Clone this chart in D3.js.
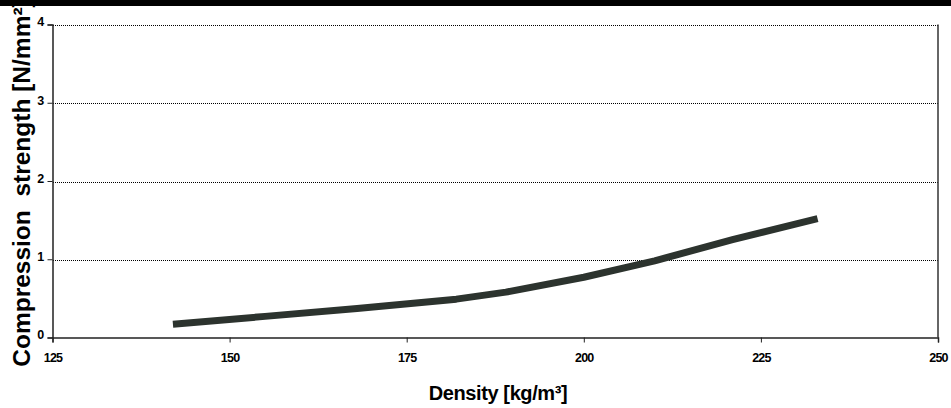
<!DOCTYPE html>
<html>
<head>
<meta charset="utf-8">
<script src="https://cdn.jsdelivr.net/npm/d3@7"></script>
<style>
body { margin: 0; background: #fff; }
text { font-family: "Liberation Sans", Arial, sans-serif; font-weight: bold; }
</style>
</head>
<body>
<script>
// density [kg/m3] vs compression strength [N/mm2]
const density = [142, 155, 168, 182, 189, 200, 210, 221, 233];
const strength = [0.17, 0.27, 0.37, 0.49, 0.58, 0.77, 0.98, 1.25, 1.52];
const xTicks = [125, 150, 175, 200, 225, 250];
const yTicks = [0, 1, 2, 3, 4];

const W = 951, H = 408;
const margin = {top: 24.5, right: 13, bottom: 70.5, left: 52.5};
const width = W - margin.left - margin.right,
    height = H - margin.top - margin.bottom;

const svg = d3.select("body").append("svg")
	.attr("width", W)
	.attr("height", H);

// black strip along the top
svg.append("rect")
	.attr("x", 0).attr("y", 0)
	.attr("width", W).attr("height", 6)
	.attr("fill", "#000");

const g = svg.append("g")
	.attr("transform", "translate(" + margin.left + "," + margin.top + ")");

const x = d3.scaleLinear().domain([125, 250]).range([0, width]);
const y = d3.scaleLinear().domain([0, 4]).range([height, 0]);

// dotted gridlines
g.selectAll(".grid")
	.data(yTicks.filter(d => d > 0))
	.join("line")
		.attr("x1", 0).attr("x2", width)
		.attr("y1", d => Math.round(y(d)) + 0.5).attr("y2", d => Math.round(y(d)) + 0.5)
		.attr("stroke", "#000")
		.attr("stroke-width", 1)
		.attr("shape-rendering", "crispEdges")
		.attr("stroke-dasharray", "1,1");

// right frame edge
g.append("line")
	.attr("x1", width).attr("x2", width)
	.attr("y1", 0).attr("y2", height)
	.attr("stroke", "#333")
	.attr("stroke-width", 1.5);

const xAxis = g.append("g")
	.attr("transform", "translate(0," + height + ")")
	.call(d3.axisBottom(x).tickValues(xTicks).tickSize(5).tickPadding(11));
const yAxis = g.append("g")
	.call(d3.axisLeft(y).tickValues(yTicks).tickFormat(d3.format("d")).tickSize(5).tickPadding(4));

[xAxis, yAxis].forEach(a => {
	a.select(".domain").attr("stroke", "#222").attr("stroke-width", 1.5);
	a.selectAll(".tick line").attr("stroke", "#222");
	a.selectAll("text")
		.attr("fill", "#000")
		.style("font-size", "12.5px")
		.style("letter-spacing", "-0.8px");
});
yAxis.selectAll(".tick text").attr("dy", "0.1em");

const line = d3.line()
	.x((d, i) => x(density[i]))
	.y(d => y(d));

g.append("path")
	.datum(strength)
	.attr("d", line)
	.attr("fill", "none")
	.attr("stroke", "#2c332e")
	.attr("stroke-width", 7)
	.attr("stroke-linejoin", "round");

svg.append("text")
	.attr("x", 498).attr("y", 400)
	.attr("text-anchor", "middle")
	.style("font-size", "20px")
	.style("letter-spacing", "-0.4px")
	.text("Density [kg/m³]");

svg.append("text")
	.attr("transform", "translate(30,183) rotate(-90)")
	.attr("text-anchor", "middle")
	.style("font-size", "24.5px")
	.style("white-space", "pre")
	.attr("xml:space", "preserve")
	.text("Compression  strength [N/mm²]");
</script>
</body>
</html>
